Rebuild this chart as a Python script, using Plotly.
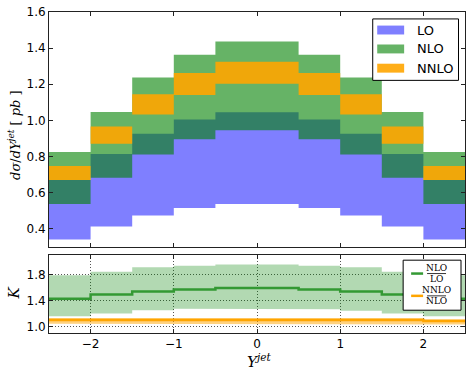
import plotly.graph_objects as go

# ---------------- data ----------------
bin_edges = [-2.5, -2.0, -1.5, -1.0, -0.5, 0.0, 0.5, 1.0, 1.5, 2.0, 2.5]
x_ticks = [-2, -1, 0, 1, 2]

lo_low = [0.340, 0.413, 0.473, 0.515, 0.537, 0.537, 0.515, 0.473, 0.413, 0.340]
lo_high = [0.670, 0.814, 0.926, 1.005, 1.045, 1.045, 1.005, 0.926, 0.814, 0.670]
nlo_low = [0.537, 0.683, 0.811, 0.896, 0.945, 0.945, 0.896, 0.811, 0.683, 0.537]
nlo_high = [0.825, 1.047, 1.237, 1.364, 1.437, 1.437, 1.364, 1.237, 1.047, 0.825]
nnlo_low = [0.670, 0.871, 1.032, 1.140, 1.203, 1.203, 1.140, 1.032, 0.871, 0.670]
nnlo_high = [0.747, 0.966, 1.144, 1.262, 1.324, 1.324, 1.262, 1.144, 0.966, 0.747]

k_nlo = [1.426, 1.490, 1.537, 1.568, 1.588, 1.588, 1.568, 1.537, 1.490, 1.426]
k_nlo_low = [1.156, 1.200, 1.247, 1.270, 1.275, 1.275, 1.265, 1.242, 1.200, 1.156]
k_nlo_high = [1.785, 1.840, 1.907, 1.930, 1.950, 1.950, 1.930, 1.907, 1.840, 1.785]
k_nnlo = [1.100, 1.105, 1.105, 1.105, 1.105, 1.105, 1.105, 1.105, 1.100, 1.085]
k_nnlo_low = [1.040, 1.040, 1.040, 1.040, 1.040, 1.040, 1.040, 1.040, 1.040, 1.030]
k_nnlo_high = [1.130, 1.135, 1.135, 1.135, 1.135, 1.135, 1.135, 1.135, 1.130, 1.110]

top_yticks = [0.4, 0.6, 0.8, 1.0, 1.2, 1.4, 1.6]
k_yticks = [1.0, 1.4, 1.8]


def band_polygon(edges, low, high):
    xs, ys = [], []
    for i in range(len(high)):
        xs += [edges[i], edges[i + 1]]
        ys += [high[i], high[i]]
    for i in reversed(range(len(low))):
        xs += [edges[i + 1], edges[i]]
        ys += [low[i], low[i]]
    xs.append(xs[0])
    ys.append(ys[0])
    return xs, ys


def step_line(edges, vals):
    xs, ys = [], []
    for i in range(len(vals)):
        xs += [edges[i], edges[i + 1]]
        ys += [vals[i], vals[i]]
    return xs, ys


fig = go.Figure()

# top panel bands
for low, high, col in [
    (lo_low, lo_high, "rgba(0,0,255,0.5)"),
    (nlo_low, nlo_high, "rgba(0,128,0,0.6)"),
    (nnlo_low, nnlo_high, "rgba(255,165,0,0.9)"),
]:
    xs, ys = band_polygon(bin_edges, low, high)
    fig.add_trace(go.Scatter(x=xs, y=ys, fill="toself", fillcolor=col, mode="lines",
                             line=dict(width=0), hoverinfo="skip", showlegend=False,
                             xaxis="x", yaxis="y"))

# ratio panel
for low, high, col in [
    (k_nlo_low, k_nlo_high, "rgba(0,128,0,0.3)"),
    (k_nnlo_low, k_nnlo_high, "rgba(255,165,0,0.5)"),
]:
    xs, ys = band_polygon(bin_edges, low, high)
    fig.add_trace(go.Scatter(x=xs, y=ys, fill="toself", fillcolor=col, mode="lines",
                             line=dict(width=0), hoverinfo="skip", showlegend=False,
                             xaxis="x2", yaxis="y2"))
for vals, col in [(k_nlo, "#339933"), (k_nnlo, "#ffa500")]:
    xs, ys = step_line(bin_edges, vals)
    fig.add_trace(go.Scatter(x=xs, y=ys, mode="lines", line=dict(color=col, width=2.5),
                             hoverinfo="skip", showlegend=False, xaxis="x2", yaxis="y2"))

# geometry helpers (window pixel -> paper)
L, R, T, B = 49, 5, 9, 38
W, H = 471, 371
PW, PH = W - L - R, H - T - B


def px(x):
    return (x - L) / PW


def py(y):
    return (H - B - y) / PH


top_dom = [py(246), 1.0]
bot_dom = [0.0, py(254)]

axis_common = dict(showline=True, linecolor="#222", linewidth=1, mirror="allticks",
                   ticks="inside", ticklen=4, tickcolor="#222", zeroline=False,
                   tickfont=dict(family="DejaVu Sans", size=12, color="black"))
grid = dict(showgrid=True, gridcolor="#555", griddash="1px,2px", gridwidth=1)

fig.update_layout(
    width=W, height=H,
    margin=dict(l=L, r=R, t=T, b=B),
    paper_bgcolor="white", plot_bgcolor="white",
    showlegend=False,
    xaxis=dict(domain=[0, 1], range=[-2.5, 2.5], tickvals=x_ticks, showticklabels=False,
               showgrid=False, anchor="y", **axis_common),
    yaxis=dict(domain=top_dom, range=[0.3, 1.6], tickvals=top_yticks, tickformat=".1f",
               showgrid=False, anchor="x", **axis_common),
    xaxis2=dict(domain=[0, 1], range=[-2.5, 2.5], tickvals=x_ticks, anchor="y2",
                **grid, **axis_common),
    yaxis2=dict(domain=bot_dom, range=[0.9, 2.1], tickvals=k_yticks, tickformat=".1f",
                anchor="x2", **grid, **axis_common),
)

shapes = []
annotations = []


def note(x, y, text, font, **kw):
    d = dict(x=px(x), y=py(y), xref="paper", yref="paper", showarrow=False,
             xanchor="center", yanchor="middle", text=text, font=font)
    d.update(kw)
    annotations.append(d)


# axis titles
note(14, 133, "<i>dσ</i>/<i>dY</i><sup><i>jet</i></sup> [ <i>pb</i> ]",
     dict(family="DejaVu Serif", size=13, color="black"), textangle=-90)
note(14, 293, "<i>K</i>", dict(family="DejaVu Serif", size=15, color="black"), textangle=-90)
note(260, 361, "<i>Y</i><sup><i>jet</i></sup>", dict(family="DejaVu Serif", size=15, color="black"))

# top legend
shapes.append(dict(type="rect", xref="paper", yref="paper", x0=px(373.5), x1=px(459.5),
                   y0=py(78), y1=py(16), line=dict(color="black", width=1), fillcolor="white",
                   layer="above"))
for (label, col, yc) in [("LO", "rgba(0,0,255,0.5)", 27.2), ("NLO", "rgba(0,128,0,0.6)", 46.3),
                         ("NNLO", "rgba(255,165,0,0.9)", 65.7)]:
    shapes.append(dict(type="rect", xref="paper", yref="paper", x0=px(378), x1=px(405),
                       y0=py(yc + 4.5), y1=py(yc - 4.5), line=dict(width=0), fillcolor=col,
                       layer="above"))
    note(416, yc, label, dict(family="DejaVu Sans", size=13, color="black"), xanchor="left")

# ratio legend
shapes.append(dict(type="rect", xref="paper", yref="paper", x0=px(404), x1=px(462),
                   y0=py(310), y1=py(259.5), line=dict(color="black", width=1),
                   fillcolor="white", layer="above"))
for (num, den, col, yc) in [("NLO", "LO", "#339933", 273.0), ("NNLO", "NLO", "#ffa500", 295.5)]:
    shapes.append(dict(type="line", xref="paper", yref="paper", x0=px(412), x1=px(424),
                       y0=py(yc), y1=py(yc), line=dict(color=col, width=2.5), layer="above"))
    shapes.append(dict(type="line", xref="paper", yref="paper", x0=px(428), x1=px(447),
                       y0=py(yc), y1=py(yc), line=dict(color="black", width=0.8), layer="above"))
    fr = dict(family="DejaVu Serif", size=9, color="black")
    note(437.5, yc - 5.5, num, fr)
    note(437.5, yc + 5.5, den, fr)

fig.update_layout(shapes=shapes, annotations=annotations)
fig.write_html("out.html", config={"displayModeBar": False},
               post_script="document.body.style.margin='0px';document.body.style.overflow='hidden';")
